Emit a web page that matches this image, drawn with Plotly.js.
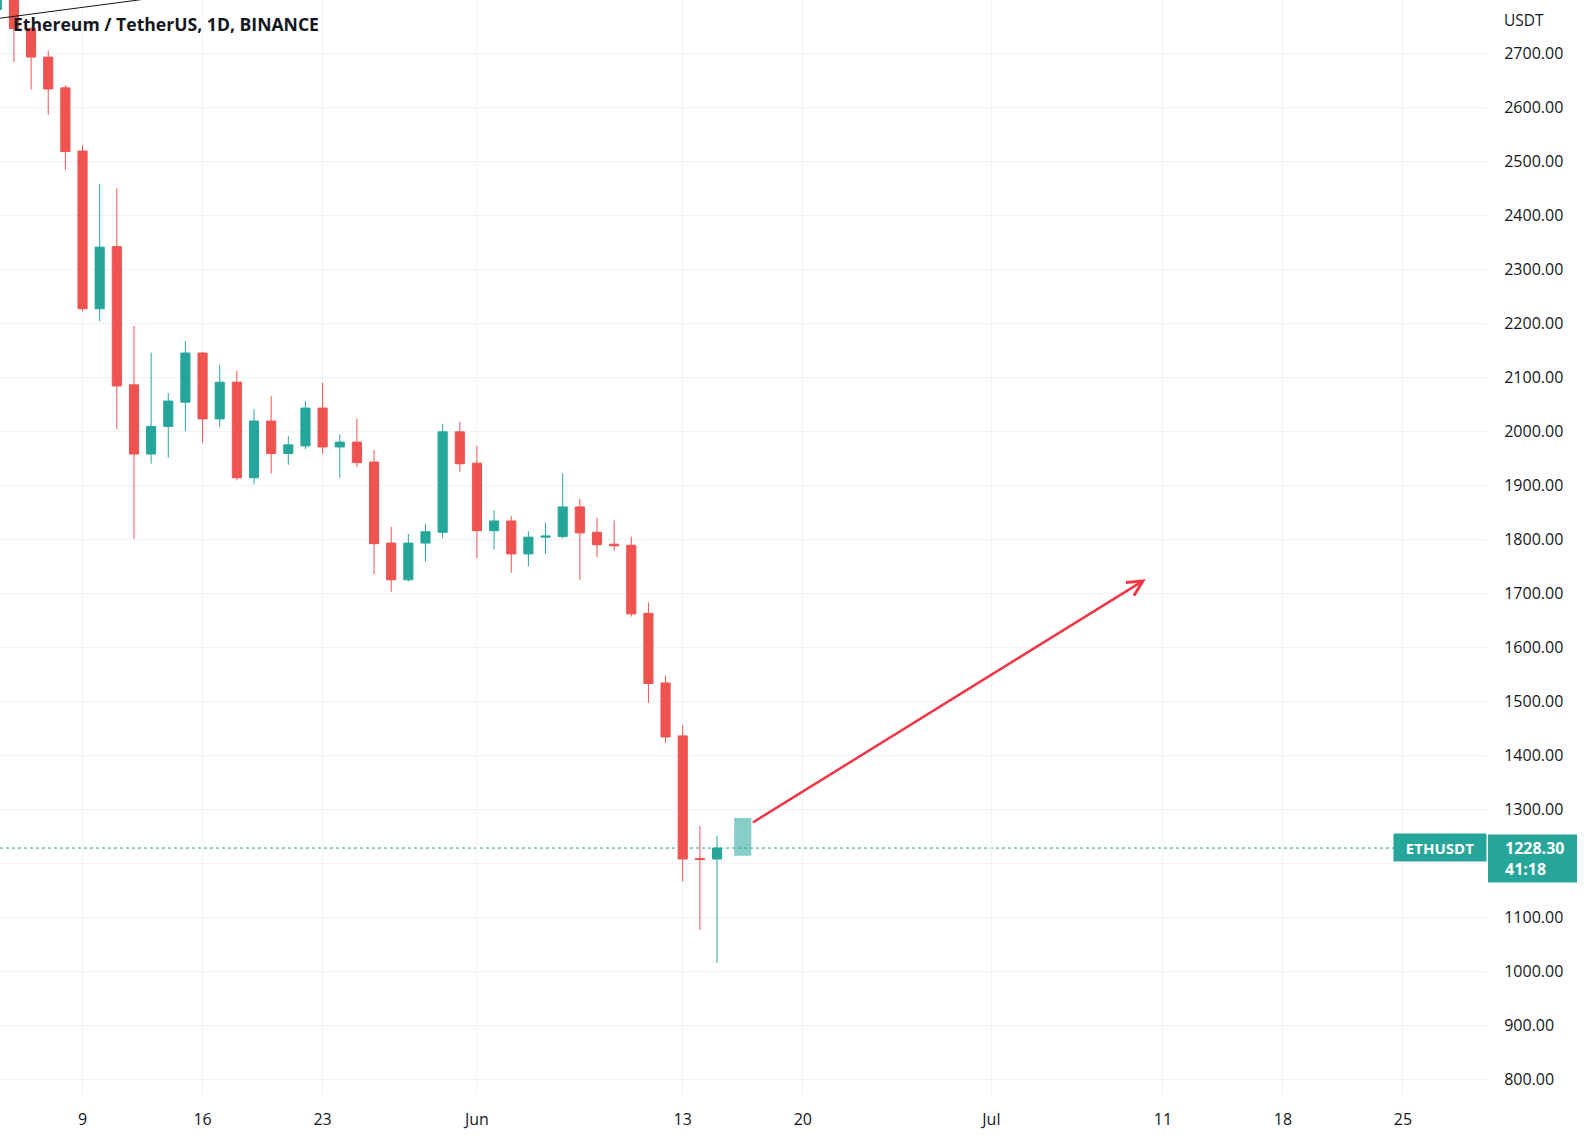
<!DOCTYPE html>
<html>
<head>
<meta charset="utf-8">
<script src="https://cdn.plot.ly/plotly-3.0.1.min.js"></script>
<style>
  html, body { margin: 0; padding: 0; background: #ffffff; }
  #chart { width: 1584px; height: 1140px; }
</style>
</head>
<body>
<div id="chart"></div>
<script>
// ---- Data (ETH/USDT daily) ----
const dates = [
  '2022-05-04','2022-05-05','2022-05-06','2022-05-07','2022-05-08','2022-05-09','2022-05-10',
  '2022-05-11','2022-05-12','2022-05-13','2022-05-14','2022-05-15','2022-05-16','2022-05-17',
  '2022-05-18','2022-05-19','2022-05-20','2022-05-21','2022-05-22','2022-05-23','2022-05-24',
  '2022-05-25','2022-05-26','2022-05-27','2022-05-28','2022-05-29','2022-05-30','2022-05-31',
  '2022-06-01','2022-06-02','2022-06-03','2022-06-04','2022-06-05','2022-06-06','2022-06-07',
  '2022-06-08','2022-06-09','2022-06-10','2022-06-11','2022-06-12','2022-06-13','2022-06-14',
  '2022-06-15'
];
const opens = [
  2781, 2940, 2746, 2693, 2636, 2519, 2227,
  2342, 2086, 1958, 2009, 2054, 2145, 2023,
  2091, 1914, 2019, 1959, 1973, 2043, 1971,
  1980, 1943, 1793, 1725, 1793, 1813, 1999,
  1941, 1816, 1834, 1773, 1804, 1805, 1860,
  1813, 1791, 1789, 1663, 1534, 1436, 1209,
  1208
];
const highs = [
  2960, 2955, 2748, 2705, 2641, 2530, 2458,
  2450, 2195, 2146, 2071, 2167, 2147, 2123,
  2112, 2041, 2065, 1991, 2056, 2090, 1994,
  2024, 1965, 1823, 1810, 1829, 2014, 2018,
  1973, 1854, 1843, 1815, 1831, 1922, 1875,
  1840, 1835, 1805, 1683, 1548, 1456, 1269,
  1251
];
const lows = [
  2781, 2684, 2633, 2586, 2484, 2222, 2204,
  2004, 1801, 1940, 1951, 2001, 1979, 2008,
  1909, 1902, 1922, 1938, 1967, 1958, 1914,
  1934, 1735, 1703, 1722, 1759, 1802, 1925,
  1765, 1781, 1738, 1750, 1773, 1802, 1725,
  1767, 1779, 1657, 1497, 1423, 1166, 1077,
  1016
];
const closes = [
  2940, 2746, 2693, 2634, 2518, 2227, 2341,
  2084, 1958, 2009, 2056, 2145, 2023, 2091,
  1914, 2019, 1959, 1975, 2043, 1971, 1980,
  1942, 1792, 1725, 1793, 1814, 1999, 1940,
  1816, 1834, 1773, 1804, 1806, 1860, 1812,
  1790, 1788, 1662, 1533, 1434, 1208, 1207,
  1228.3
];

// x axis ticks
const tickDates = ['2022-05-09','2022-05-16','2022-05-23','2022-06-01','2022-06-13','2022-06-20','2022-07-01','2022-07-11','2022-07-18','2022-07-25'];
const tickLabels = ['9','16','23','Jun','13','20','Jul','11','18','25'];

// y axis ticks (1200.00 is covered by the last-price label)
const priceTicks = [800, 900, 1000, 1100, 1200, 1300, 1400, 1500, 1600, 1700, 1800, 1900, 2000, 2100, 2200, 2300, 2400, 2500, 2600, 2700];
const priceTickLabels = ['800.00','900.00','1000.00','1100.00','','1300.00','1400.00','1500.00','1600.00','1700.00','1800.00','1900.00','2000.00','2100.00','2200.00','2300.00','2400.00','2500.00','2600.00','2700.00'];

// Drawings
const lastPrice = 1228.30;
const countdown = '41:18';
const projDates = ['2022-06-16', '2022-06-17'];
const projPrices = [1214, 1284];
const arrowDates = ['2022-06-17', '2022-07-10'];
const arrowPrices = [1274, 1726];
const trendDates = ['2022-05-03', '2022-05-14'];
const trendPrices = [2760, 2806];

const UP = '#26a69a', DOWN = '#ef5350', TXT = '#131722', GRID = '#f0f3fa';
const FONT = '"Open Sans", "Noto Sans", sans-serif';

// axis geometry
const W = 1584, H = 1140, M = { l: 0, r: 97, t: 0, b: 45 };
const yRange = [771, 2798.7];
const plotH = H - M.t - M.b, plotW = W - M.l - M.r;
const pricePerPx = (yRange[1] - yRange[0]) / plotH;

const trace = {
  type: 'candlestick',
  x: dates, open: opens, high: highs, low: lows, close: closes,
  increasing: { line: { color: UP, width: 1 }, fillcolor: UP },
  decreasing: { line: { color: DOWN, width: 1 }, fillcolor: DOWN },
  whiskerwidth: 0,
  hoverinfo: 'skip',
  showlegend: false
};

const layout = {
  width: W, height: H,
  margin: { l: M.l, r: M.r, t: M.t, b: M.b, pad: 0 },
  paper_bgcolor: '#ffffff', plot_bgcolor: '#ffffff',
  font: { family: FONT, color: TXT, size: 16 },
  boxgap: 0.24,
  showlegend: false,
  xaxis: {
    type: 'date',
    range: ['2022-05-04 04:30', '2022-07-29 21:36'],
    tickmode: 'array', tickvals: tickDates, ticktext: tickLabels,
    showgrid: true, gridcolor: GRID, gridwidth: 1,
    zeroline: false, showline: false,
    ticks: 'outside', ticklen: 10, tickcolor: 'rgba(0,0,0,0)',
    tickfont: { family: FONT, size: 16, color: TXT },
    rangeslider: { visible: false },
    fixedrange: true
  },
  yaxis: {
    side: 'right',
    range: yRange,
    tickmode: 'array', tickvals: priceTicks, ticktext: priceTickLabels,
    showgrid: true, gridcolor: GRID, gridwidth: 1,
    zeroline: false, showline: false,
    ticks: 'outside', ticklen: 13, tickcolor: 'rgba(0,0,0,0)',
    tickfont: { family: FONT, size: 16, color: TXT },
    fixedrange: true
  },
  shapes: [
    { type: 'line', xref: 'paper', yref: 'y', x0: 0, x1: 1, y0: lastPrice, y1: lastPrice,
      line: { color: UP, width: 1, dash: 'dot' }, layer: 'below' },
    { type: 'rect', xref: 'x', yref: 'y', x0: projDates[0], x1: projDates[1], y0: projPrices[0], y1: projPrices[1],
      fillcolor: 'rgba(38,166,154,0.55)', line: { width: 0 }, layer: 'above' },
    { type: 'line', xref: 'x', yref: 'y', x0: trendDates[0], x1: trendDates[1], y0: trendPrices[0], y1: trendPrices[1],
      line: { color: '#131722', width: 1 }, layer: 'above' },
    // price label background on the price scale
    { type: 'rect', xref: 'paper', yref: 'y',
      x0: 1 + 1 / plotW, x1: 1 + 90 / plotW,
      y0: lastPrice + 13.5 * pricePerPx, y1: lastPrice - 34.5 * pricePerPx,
      fillcolor: UP, line: { width: 0 }, layer: 'above' }
  ],
  annotations: [
    { xref: 'paper', yref: 'paper', x: 0, y: 1, xanchor: 'left', yanchor: 'middle', xshift: 11, yshift: -24,
      text: '<b>Ethereum / TetherUS, 1D, BINANCE</b>', showarrow: false,
      font: { family: FONT, size: 17.6, color: TXT } },
    { xref: 'paper', yref: 'paper', x: 1, y: 1, xanchor: 'left', yanchor: 'middle', xshift: 15, yshift: -20,
      text: 'USDT', showarrow: false, font: { family: FONT, size: 15.5, color: TXT } },
    { xref: 'x', yref: 'y', axref: 'x', ayref: 'y',
      x: arrowDates[1], y: arrowPrices[1], ax: arrowDates[0], ay: arrowPrices[0],
      text: '', showarrow: true, arrowhead: 5, arrowsize: 1.2, arrowwidth: 2.5, arrowcolor: '#f23645',
      standoff: 0, startstandoff: 0 },
    { xref: 'paper', yref: 'y', x: 1, y: lastPrice, xanchor: 'right', yanchor: 'middle', yshift: 1,
      text: '<b>ETHUSDT</b>', showarrow: false, bgcolor: UP, borderpad: 0, width: 92, height: 27,
      align: 'center', font: { family: FONT, size: 15, color: '#ffffff' } },
    { xref: 'paper', yref: 'y', x: 1, y: lastPrice, xanchor: 'left', yanchor: 'top', xshift: 15, yshift: 14,
      text: '<b>' + lastPrice.toFixed(2) + '<br>' + countdown + '</b>', showarrow: false, align: 'left',
      borderpad: 2, font: { family: FONT, size: 16, color: '#ffffff' } }
  ]
};

Plotly.newPlot('chart', [trace], layout, { displayModeBar: false, staticPlot: true });
</script>
</body>
</html>
